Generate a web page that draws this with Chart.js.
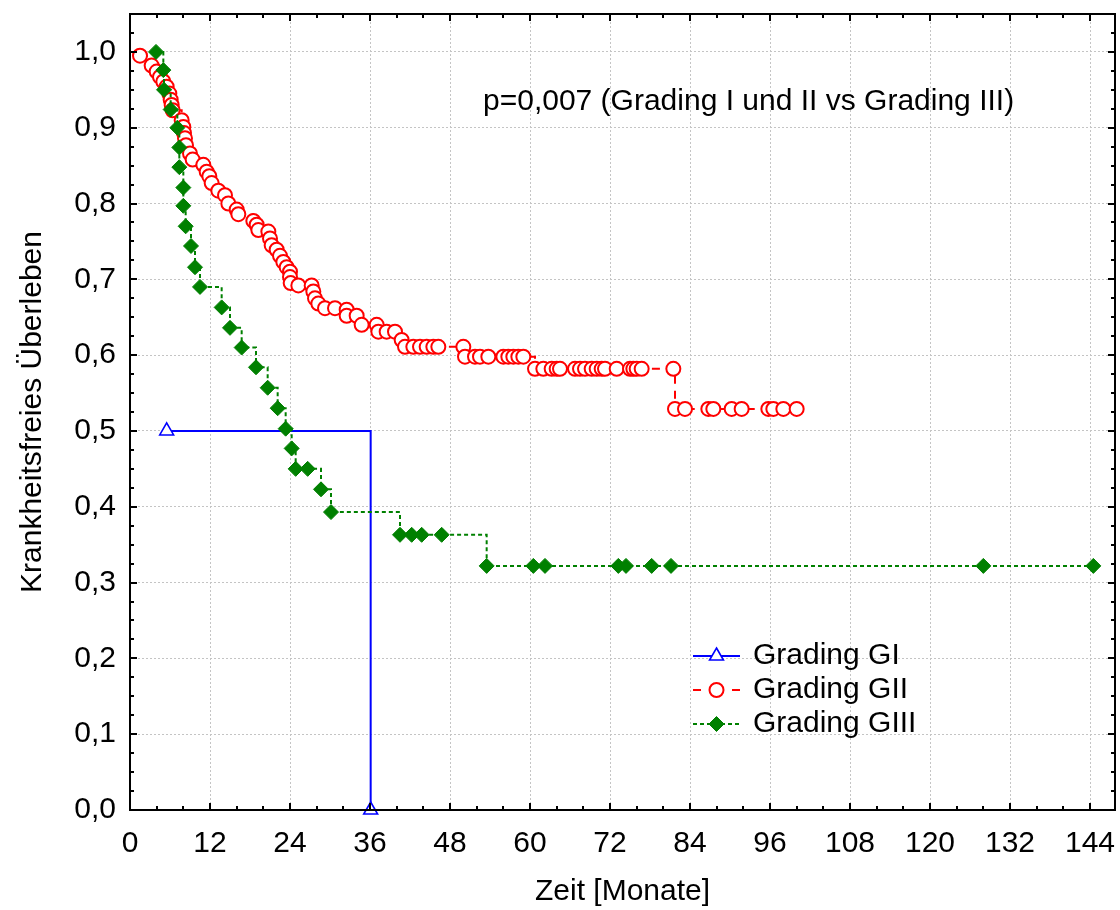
<!DOCTYPE html>
<html>
<head>
<meta charset="utf-8">
<script src="https://cdn.jsdelivr.net/npm/chart.js@4.4.1/dist/chart.umd.min.js"></script>
<style>
  html, body { margin: 0; padding: 0; background: #fff; }
  #wrap { width: 1120px; height: 910px; }
</style>
</head>
<body>
<div id="wrap"><canvas id="c" width="1120" height="910"></canvas></div>
<script>
// ---- Data ----
const seriesNames = ['Grading GI', 'Grading GII', 'Grading GIII'];
const pValueText = 'p=0,007 (Grading I und II vs Grading III)';
const xAxisTitle = 'Zeit [Monate]';
const yAxisTitle = 'Krankheitsfreies Überleben';

const monthsGI   = [5.5, 36.1];
const survivalGI = [0.5, 0.0];

const monthsGII = [
  1.5, 3.25, 4.0, 4.5, 5.0, 5.5, 5.9, 6.1, 6.25, 6.4,
  7.75, 8.0, 8.1, 8.25, 8.4, 9.0, 9.4, 11.0, 11.5, 11.9,
  12.25, 13.25, 14.25, 14.75, 16.0, 16.25, 18.5, 19.0, 19.25, 20.75,
  21.0, 21.25, 22.0, 22.5, 23.0, 23.5, 24.0, 24.0, 24.1, 25.25,
  27.25, 27.5, 27.75, 28.25, 29.25, 30.75, 32.5, 32.5, 34.0, 34.75,
  37.0, 37.25, 38.5, 39.75, 40.75, 41.25, 42.5, 43.5, 44.5, 45.5,
  46.25, 50.0, 50.25, 51.75, 52.5, 53.75, 56.0, 56.75, 57.5, 58.25,
  59.0, 60.75, 62.0, 63.25, 64.0, 64.5, 66.75, 67.5, 68.25, 69.25,
  70.0, 70.75, 71.25, 73.0, 75.0, 75.5, 76.0, 76.75, 81.5, 81.75,
  83.25, 86.75, 87.5, 90.25, 91.75, 95.75, 96.5, 98.0, 100.0
];
const survivalGII = [
  0.995, 0.982, 0.974, 0.967, 0.961, 0.954, 0.945, 0.937, 0.930, 0.923,
  0.910, 0.901, 0.893, 0.886, 0.877, 0.866, 0.858, 0.851, 0.842, 0.836,
  0.827, 0.817, 0.811, 0.800, 0.792, 0.786, 0.777, 0.772, 0.765, 0.763,
  0.754, 0.745, 0.739, 0.731, 0.723, 0.716, 0.710, 0.703, 0.695, 0.692,
  0.692, 0.684, 0.675, 0.668, 0.662, 0.662, 0.660, 0.652, 0.652, 0.640,
  0.640, 0.631, 0.631, 0.631, 0.620, 0.611, 0.611, 0.611, 0.611, 0.611,
  0.611, 0.611, 0.598, 0.598, 0.598, 0.598, 0.598, 0.598, 0.598, 0.598,
  0.598, 0.582, 0.582, 0.582, 0.582, 0.582, 0.582, 0.582, 0.582, 0.582,
  0.582, 0.582, 0.582, 0.582, 0.582, 0.582, 0.582, 0.582, 0.582, 0.529,
  0.529, 0.529, 0.529, 0.529, 0.529, 0.529, 0.529, 0.529, 0.529
];

const monthsGIII = [
  3.9, 5.0, 5.1, 6.1, 7.1, 7.4, 7.4, 8.0, 8.0, 8.35,
  9.15, 9.75, 10.5, 13.75, 15.0, 16.75, 18.9, 20.65, 22.15, 23.35,
  24.25, 24.85, 26.65, 28.65, 30.15, 40.5, 42.25, 43.75, 46.75, 53.5,
  60.5, 62.25, 73.25, 74.4, 78.25, 81.15, 128.0, 144.5
];
const survivalGIII = [
  1.000, 0.976, 0.950, 0.924, 0.900, 0.874, 0.848, 0.821, 0.797, 0.770,
  0.744, 0.716, 0.690, 0.663, 0.636, 0.610, 0.584, 0.557, 0.530, 0.503,
  0.477, 0.450, 0.450, 0.423, 0.393, 0.363, 0.363, 0.363, 0.363, 0.322,
  0.322, 0.322, 0.322, 0.322, 0.322, 0.322, 0.322, 0.322
];

// ---- Chart ----
const FONT = "'Liberation Sans', Arial, sans-serif";
const toPts = (xs, ys) => xs.map((m, i) => ({ x: m, y: ys[i] }));

const datasets = [
  {
    label: seriesNames[0], data: toPts(monthsGI, survivalGI),
    showLine: true, stepped: true, borderColor: '#0000ff', borderWidth: 2,
    pointStyle: 'triangle', pointRadius: 8, pointBorderWidth: 1.6,
    pointBackgroundColor: '#ffffff', pointBorderColor: '#0000ff',
    clip: false, order: 2
  },
  {
    label: seriesNames[1], data: toPts(monthsGII, survivalGII),
    showLine: true, stepped: true, borderColor: '#ff0000', borderWidth: 2,
    borderDash: [8, 7],
    pointStyle: 'circle', pointRadius: 7, pointBorderWidth: 2,
    pointBackgroundColor: '#ffffff', pointBorderColor: '#ff0000',
    order: 1
  },
  {
    label: seriesNames[2], data: toPts(monthsGIII, survivalGIII),
    showLine: true, stepped: true, borderColor: '#008000', borderWidth: 2,
    borderDash: [4, 3],
    pointStyle: 'rectRot', pointRadius: 7.5, pointBorderWidth: 1,
    pointBackgroundColor: '#008000', pointBorderColor: '#008000',
    order: 0
  }
];

function strokeLine(ctx, x1, y1, x2, y2) {
  ctx.beginPath(); ctx.moveTo(x1, y1); ctx.lineTo(x2, y2); ctx.stroke();
}

const decor = {
  id: 'decor',
  afterDraw(chart) {
    const { ctx, chartArea: a, scales: { x, y } } = chart;
    ctx.save();
    // frame
    ctx.strokeStyle = '#000'; ctx.lineWidth = 2; ctx.setLineDash([]);
    ctx.strokeRect(a.left, a.top, a.right - a.left, a.bottom - a.top);
    // inward tick marks
    ctx.lineWidth = 2;
    for (let i = 0; i * 4 <= x.max + 1e-9; i++) {
      const px = Math.round(x.getPixelForValue(i * 4));
      const len = (i % 3 === 0) ? 7 : 4;
      strokeLine(ctx, px, a.bottom, px, a.bottom - len);
      strokeLine(ctx, px, a.top, px, a.top + len);
    }
    for (let i = 0; i * 0.025 <= y.max + 1e-9; i++) {
      const py = Math.round(y.getPixelForValue(i * 0.025));
      const len = (i % 4 === 0) ? 7 : 4;
      strokeLine(ctx, a.left, py, a.left + len, py);
      strokeLine(ctx, a.right, py, a.right - len, py);
    }
    // axis titles
    ctx.fillStyle = '#000';
    ctx.font = '30px ' + FONT;
    ctx.textAlign = 'center'; ctx.textBaseline = 'middle';
    ctx.fillText(xAxisTitle, (a.left + a.right) / 2, 892);
    ctx.save();
    ctx.translate(33, (a.top + a.bottom) / 2);
    ctx.rotate(-Math.PI / 2);
    ctx.fillText(yAxisTitle, 0, 0);
    ctx.restore();
    // p-value annotation
    ctx.textAlign = 'left';
    ctx.fillText(pValueText, 483, 102);
    // legend
    const rows = [656, 690, 724];
    chart.data.datasets.forEach((ds, i) => {
      const ly = rows[i];
      ctx.strokeStyle = ds.borderColor; ctx.lineWidth = ds.borderWidth;
      ctx.setLineDash(ds.borderDash || []);
      if (i === 1) {
        strokeLine(ctx, 693, ly, 701, ly);
        strokeLine(ctx, 732, ly, 740, ly);
      } else {
        strokeLine(ctx, 693, ly, 740, ly);
      }
      ctx.setLineDash([]);
      ctx.fillStyle = ds.pointBackgroundColor;
      ctx.strokeStyle = ds.pointBorderColor;
      ctx.lineWidth = ds.pointBorderWidth;
      Chart.helpers.drawPoint(ctx, {
        pointStyle: ds.pointStyle, radius: ds.pointRadius, rotation: 0,
        borderWidth: ds.pointBorderWidth
      }, 716.5, ly);
      ctx.fillStyle = '#000';
      ctx.font = '30px ' + FONT;
      ctx.textAlign = 'left'; ctx.textBaseline = 'middle';
      ctx.fillText(ds.label, 753, ly);
    });
    ctx.restore();
  }
};

new Chart(document.getElementById('c'), {
  type: 'scatter',
  data: { datasets },
  plugins: [decor],
  options: {
    responsive: false,
    animation: false,
    events: [],
    layout: { autoPadding: false, padding: { top: 14, right: 5, left: 0, bottom: 0 } },
    plugins: { legend: { display: false }, tooltip: { enabled: false } },
    scales: {
      x: {
        type: 'linear', min: 0, max: 147.75,
        afterFit: (s) => { s.height = 100; s.paddingLeft = 0; s.paddingRight = 0; },
        grid: { color: '#c4c4c4', lineWidth: 1, drawTicks: false },
        border: { display: false, dash: [2, 2] },
        ticks: {
          stepSize: 12, includeBounds: false, padding: 16,
          color: '#000', font: { family: FONT, size: 30 }, maxRotation: 0
        }
      },
      y: {
        type: 'linear', min: 0, max: 1.05,
        afterFit: (s) => { s.width = 130; s.paddingTop = 0; s.paddingBottom = 0; },
        grid: { color: '#c4c4c4', lineWidth: 1, drawTicks: false },
        border: { display: false, dash: [2, 2] },
        ticks: {
          stepSize: 0.1, includeBounds: false, padding: 14,
          color: '#000', font: { family: FONT, size: 30 },
          callback: (v) => v.toFixed(1).replace('.', ',')
        }
      }
    }
  }
});
</script>
</body>
</html>
